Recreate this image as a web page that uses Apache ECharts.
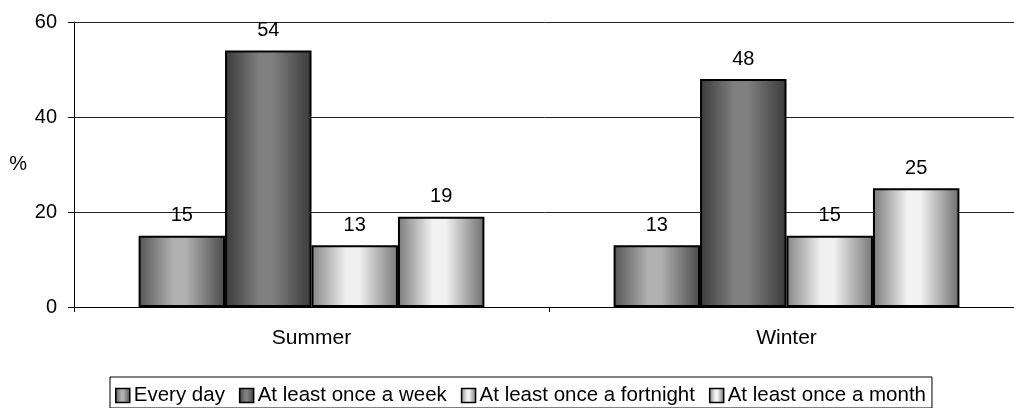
<!DOCTYPE html>
<html>
<head>
<meta charset="utf-8">
<script src="https://cdn.jsdelivr.net/npm/echarts@6/dist/echarts.min.js"></script>
<style>
html,body{margin:0;padding:0;background:#fff;}
#chart{width:1014px;height:408px;}
</style>
</head>
<body>
<div id="chart"></div>
<script>
const categories = ['Summer', 'Winter'];
const seriesNames = ['Every day', 'At least once a week', 'At least once a fortnight', 'At least once a month'];
const everyDay = [15, 13];
const onceWeek = [54, 48];
const onceFortnight = [13, 15];
const onceMonth = [19, 25];
const yTicks = [0, 20, 40, 60];

const FONT = 'Liberation Sans, Arial, sans-serif';
function grad(edgeL, mid, edgeR) {
  return new echarts.graphic.LinearGradient(0, 0, 1, 0, [
    {offset: 0, color: edgeL},
    {offset: 0.4, color: mid},
    {offset: 0.55, color: mid},
    {offset: 1, color: edgeR}
  ]);
}
const fills = [
  grad('#555555', '#b0b0b0', '#4a4a4a'),
  grad('#3a3a3a', '#808080', '#3a3a3a'),
  grad('#858585', '#f0f0f0', '#777777'),
  grad('#7a7a7a', '#f2f2f2', '#6e6e6e')
];
const values = [everyDay, onceWeek, onceFortnight, onceMonth];

const chart = echarts.init(document.getElementById('chart'), null, {renderer: 'canvas'});
chart.setOption({
  animation: false,
  backgroundColor: '#ffffff',
  grid: {left: 74, top: 22, width: 950, bottom: 101, containLabel: false, outerBoundsMode: 'none'},
  legend: {
    top: 377,
    left: 110,
    icon: 'rect',
    data: seriesNames,
    borderColor: '#000',
    borderWidth: 1,
    padding: [8, 6, 2, 5],
    itemGap: 14,
    itemWidth: 14,
    itemHeight: 14,
    itemStyle: {borderColor: '#000', borderWidth: 1.5},
    textStyle: {fontFamily: FONT, fontSize: 20.5, color: '#000', padding: [0, 0, 0, -1]}
  },
  xAxis: {
    type: 'category',
    data: categories,
    axisLine: {lineStyle: {color: '#000', width: 1}},
    axisTick: {show: true, length: 5, lineStyle: {color: '#000'}},
    axisLabel: {fontFamily: FONT, fontSize: 21, color: '#000', margin: 21}
  },
  yAxis: {
    type: 'value',
    min: yTicks[0],
    max: yTicks[yTicks.length - 1],
    interval: 20,
    name: '%',
    nameLocation: 'middle',
    nameRotate: 0,
    nameGap: 47,
    nameTextStyle: {fontFamily: FONT, fontSize: 20, color: '#000'},
    axisLine: {show: true, lineStyle: {color: '#000', width: 1}},
    axisTick: {show: true, length: 6, lineStyle: {color: '#000'}},
    axisLabel: {fontFamily: FONT, fontSize: 20, color: '#000', margin: 17},
    splitLine: {lineStyle: {color: '#222', width: 1}}
  },
  series: seriesNames.map((n, i) => ({
    name: n,
    type: 'bar',
    data: values[i],
    barGap: '0%',
    barCategoryGap: '27.2%',
    itemStyle: {color: fills[i], borderColor: '#000', borderWidth: 2},
    label: {show: true, position: 'top', distance: 10, fontFamily: FONT, fontSize: 20, color: '#000'}
  }))
});
</script>
</body>
</html>
